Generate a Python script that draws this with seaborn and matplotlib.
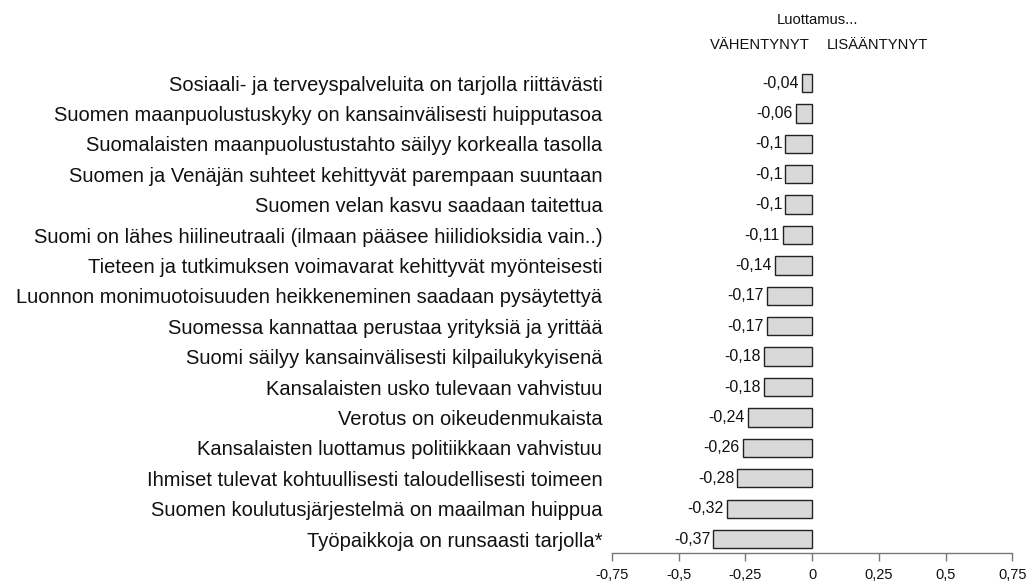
import matplotlib.pyplot as plt
import pandas as pd
import seaborn as sns

statements = [
    "Sosiaali- ja terveyspalveluita on tarjolla riittävästi",
    "Suomen maanpuolustuskyky on kansainvälisesti huipputasoa",
    "Suomalaisten maanpuolustustahto säilyy korkealla tasolla",
    "Suomen ja Venäjän suhteet kehittyvät parempaan suuntaan",
    "Suomen velan kasvu saadaan taitettua",
    "Suomi on lähes hiilineutraali (ilmaan pääsee hiilidioksidia vain..)",
    "Tieteen ja tutkimuksen voimavarat kehittyvät myönteisesti",
    "Luonnon monimuotoisuuden heikkeneminen saadaan pysäytettyä",
    "Suomessa kannattaa perustaa yrityksiä ja yrittää",
    "Suomi säilyy kansainvälisesti kilpailukykyisenä",
    "Kansalaisten usko tulevaan vahvistuu",
    "Verotus on oikeudenmukaista",
    "Kansalaisten luottamus politiikkaan vahvistuu",
    "Ihmiset tulevat kohtuullisesti taloudellisesti toimeen",
    "Suomen koulutusjärjestelmä on maailman huippua",
    "Työpaikkoja on runsaasti tarjolla*",
]
change = [-0.04, -0.06, -0.10, -0.10, -0.10, -0.11, -0.14, -0.17,
          -0.17, -0.18, -0.18, -0.24, -0.26, -0.28, -0.32, -0.37]
x_ticks = [-0.75, -0.5, -0.25, 0, 0.25, 0.5, 0.75]

df = pd.DataFrame({"statement": statements, "change": change})

sns.set_theme(style="white")
plt.rcParams["font.family"] = ["Liberation Sans", "DejaVu Sans"]

fig = plt.figure(figsize=(10.32, 5.82), dpi=100)
ax = fig.add_axes([0.593, 0.0498, 0.388, 0.8337])

sns.barplot(data=df, y="statement", x="change", orient="h", ax=ax,
            color="#d9d9d9", edgecolor="#222222", linewidth=1.0,
            width=0.6, saturation=1)

for i, v in enumerate(change):
    ax.text(v - 0.012, i, f"{v:g}".replace(".", ","), ha="right", va="center",
            fontsize=11.5, color="#111111")

ax.set_xlim(-0.75, 0.75)
ax.set_ylim(15.46, -0.5)
ax.set_xticks(x_ticks)
ax.set_xticklabels([f"{t:g}".replace(".", ",") for t in x_ticks], fontsize=10.5)
ax.set_xlabel("")
ax.set_ylabel("")
ax.tick_params(axis="y", length=0, pad=7, labelsize=14.5, labelcolor="#111111")
ax.tick_params(axis="x", length=6, width=1, color="#777777", direction="out",
               pad=5, labelcolor="#111111", bottom=True)

for side in ["top", "right", "left"]:
    ax.spines[side].set_visible(False)
ax.spines["bottom"].set_color("#777777")
ax.spines["bottom"].set_linewidth(1)

fig.text(818 / 1032, 1 - 20 / 582, "Luottamus...", ha="center", va="center",
         fontsize=10.6, color="#111111")
fig.text(810 / 1032, 1 - 45 / 582, "VÄHENTYNYT", ha="right", va="center",
         fontsize=10.6, color="#111111")
fig.text(827 / 1032, 1 - 45 / 582, "LISÄÄNTYNYT", ha="left", va="center",
         fontsize=10.6, color="#111111")

fig.savefig("out.png", dpi=100)
